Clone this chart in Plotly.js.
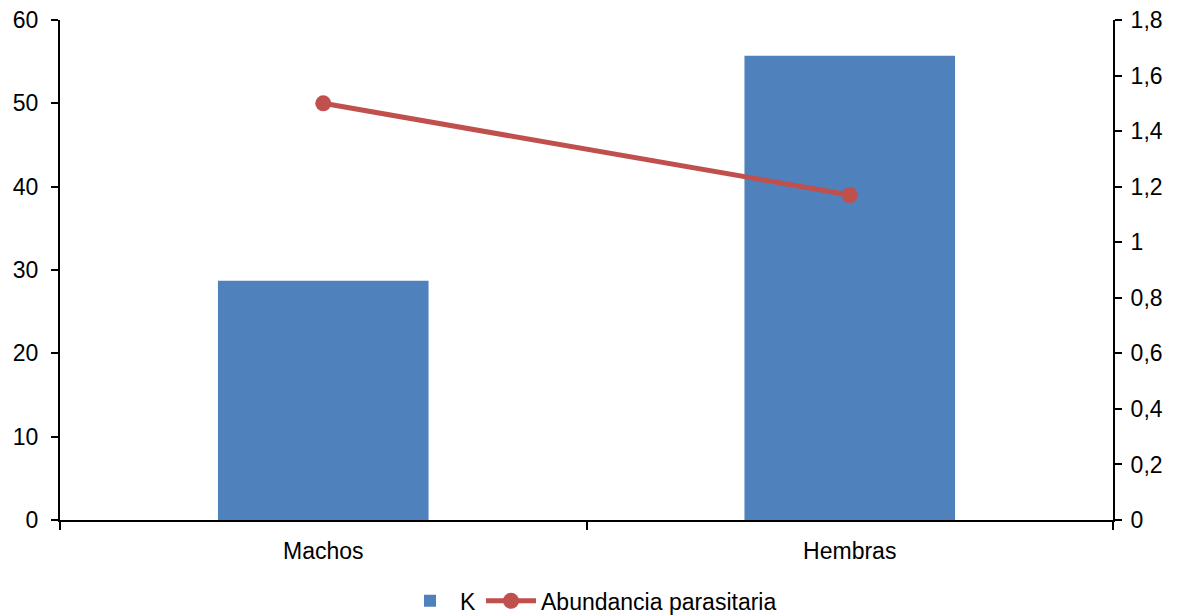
<!DOCTYPE html>
<html>
<head>
<meta charset="utf-8">
<script src="https://cdn.plot.ly/plotly-3.0.1.min.js"></script>
<style>html,body{margin:0;padding:0;background:#fff;}#chart{width:1182px;height:615px;}</style>
</head>
<body>
<div id="chart"></div>
<script>
const categories = ["Machos", "Hembras"];
const kValues = [28.7, 55.7];
const abundancia = [1.5, 1.17];
const leftTicks = [0, 10, 20, 30, 40, 50, 60];
const rightTicks = [0, 0.2, 0.4, 0.6, 0.8, 1, 1.2, 1.4, 1.6, 1.8];

const fontFam = "Liberation Sans, Arial, sans-serif";
const data = [
  {type: "bar", name: "K", x: categories, y: kValues, marker: {color: "#4F81BD"}, width: 0.4},
  {type: "scatter", mode: "lines+markers", name: "Abundancia parasitaria", x: categories, y: abundancia, yaxis: "y2",
   line: {color: "#C0504D", width: 5}, marker: {color: "#C0504D", size: 16}}
];
const tf = {family: fontFam, size: 23, color: "#000"};
const layout = {
  width: 1182, height: 615,
  margin: {l: 60, r: 69, t: 20, b: 95},
  paper_bgcolor: "#fff", plot_bgcolor: "#fff",
  separators: ", ",
  font: tf,
  showlegend: true,
  legend: {orientation: "h", x: 0.5, xanchor: "center", xref: "container", y: 0.023, yanchor: "middle", yref: "container", font: tf, traceorder: "normal", itemwidth: 50},
  xaxis: {type: "category", showline: true, linecolor: "#000", linewidth: 2, ticks: "outside", ticklen: 8, tickwidth: 2, tickcolor: "#000", tickson: "boundaries", showgrid: false, zeroline: false, range: [-0.5, 1.5], tickfont: tf, ticklabelstandoff: 9},
  yaxis: {range: [0, 60], tickvals: leftTicks, showline: true, linecolor: "#000", linewidth: 2, ticks: "outside", ticklen: 7, tickwidth: 2, tickcolor: "#000", showgrid: false, zeroline: false, ticklabelstandoff: 8, tickfont: tf},
  yaxis2: {range: [0, 1.8], tickvals: rightTicks, overlaying: "y", side: "right", showline: true, linecolor: "#000", linewidth: 2, ticks: "outside", ticklen: 7, tickwidth: 2, tickcolor: "#000", showgrid: false, zeroline: false, tickfont: tf, ticklabelstandoff: 4}
};
Plotly.newPlot("chart", data, layout, {displayModeBar: false, staticPlot: true});
</script>
</body>
</html>
